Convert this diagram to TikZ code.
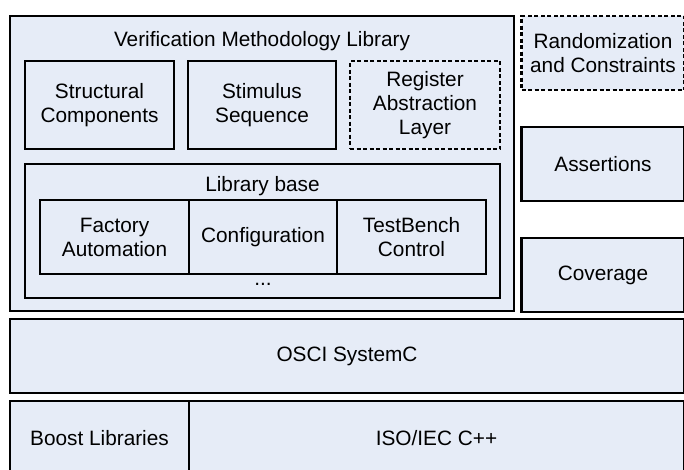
\documentclass[tikz,border=0pt]{standalone}
\usepackage{fontspec}
\setmainfont{Liberation Sans}
\usetikzlibrary{positioning}
\definecolor{layerFill}{RGB}{230, 236, 247}

\begin{document}
\begin{tikzpicture}[
            x=1pt, y=-1pt,
            font=\fontsize{20.8}{24}\selectfont,
            % Styles
            layer/.style={
                draw=black, line width=2.8pt, fill=layerFill, align=center, inner sep=0pt, outer sep=0pt
            },
            optional/.style={
                layer, dash pattern=on 4pt off 2.5pt
            },
            caption/.style={
                inner sep=0pt, align=center
            }
        ]
            \useasboundingbox (0,0) rectangle (684,469);
            \clip (0,0) rectangle (684,469);

            % --- Verification Methodology Library ---
            \node[layer, minimum width=504pt, minimum height=295pt] (vml) at (262,163.5) {};
            \node[caption] (vmltitle) at (262,41) {Verification Methodology Library};

            \node[layer, minimum width=149pt, minimum height=88pt] (structural) at (99.5,105) {Structural\\Components};
            \node[layer, minimum width=148pt, minimum height=88pt] (stimulus) at (262,105) {Stimulus\\Sequence};
            \node[optional, minimum width=150pt, minimum height=88pt] (register) at (425,105) {Register\\Abstraction\\Layer};

            % Library base
            \node[layer, minimum width=475pt, minimum height=134pt] (base) at (262.5,231) {};
            \node[caption] (basetitle) at (262.5,186) {Library base};
            \node[layer, minimum width=149pt, minimum height=74pt] (factory) at (114.5,237) {Factory\\Automation};
            \node[layer, minimum width=148pt, minimum height=74pt, right=0pt of factory] (config) {Configuration};
            \node[layer, minimum width=149pt, minimum height=74pt, right=0pt of config] (tbcontrol) {TestBench\\Control};
            \node[caption] (more) at (263,284) {...};

            % --- Side blocks ---
            \node[optional, minimum width=163pt, minimum height=74pt] (random) at (603,53) {Randomization\\and Constraints};
            \node[layer, minimum width=163pt, minimum height=74pt] (assertions) at (603,164) {Assertions};
            \node[layer, minimum width=163pt, minimum height=74pt] (coverage) at (603,275) {Coverage};

            % --- Lower layers ---
            \node[layer, minimum width=674pt, minimum height=74pt] (systemc) at (347,356) {OSCI SystemC};
            \node[layer, minimum width=179pt, minimum height=74pt] (boost) at (99.5,438) {Boost Libraries};
            \node[layer, minimum width=495pt, minimum height=74pt, right=0pt of boost] (cpp) {ISO/IEC C++};

        \end{tikzpicture}
\end{document}
